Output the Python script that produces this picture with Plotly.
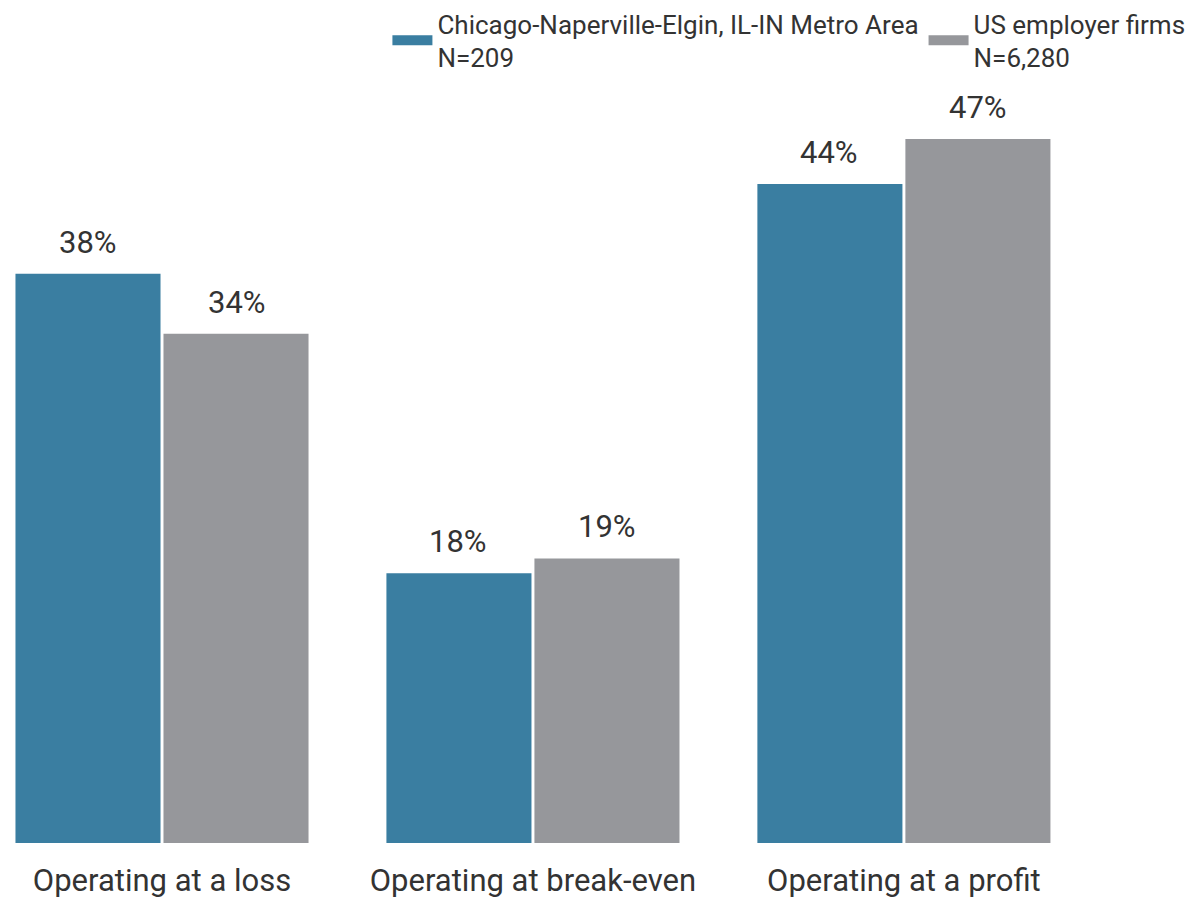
import plotly.graph_objects as go

categories = ["Operating at a loss", "Operating at break-even", "Operating at a profit"]
chicago = [38, 18, 44]
us = [34, 19, 47]
series_names = ["Chicago-Naperville-Elgin, IL-IN Metro Area<br>N=209", "US employer firms<br>N=6,280"]
colors = ["#3a7ea1", "#96979b"]

FONT = "Roboto"
TXT = "#333333"

fig = go.Figure()
for vals, name, col in zip([chicago, us], series_names, colors):
    fig.add_trace(go.Bar(x=categories, y=vals, name=name, marker_color=col,
                         marker_line_width=0, showlegend=False))
# legend proxies (wide swatches)
for name, col in zip(series_names, colors):
    fig.add_trace(go.Scatter(x=[None], y=[None], mode="lines", name=name,
                             line=dict(color=col, width=12)))

# value labels
for vals, shift in zip([chicago, us], [-74.5, 74.5]):
    for c, v in zip(categories, vals):
        fig.add_annotation(x=c, y=v, text=f"{v}%", showarrow=False, xshift=shift,
                           yanchor="bottom", yshift=11,
                           font=dict(family=FONT, size=31, color=TXT))

fig.update_layout(
    width=1194, height=899,
    margin=dict(l=0, r=0, t=80, b=56),
    paper_bgcolor="white", plot_bgcolor="white",
    barmode="group", bargap=0.202, bargroupgap=0.02,
    legend=dict(orientation="h", xref="container", yref="container",
                x=0.997, xanchor="right", y=1, yanchor="top",
                itemwidth=40,
                font=dict(family=FONT, size=26, color=TXT)),
    font=dict(family=FONT, color=TXT),
)
fig.update_xaxes(range=[-0.4367, 2.782], showgrid=False, showline=False, ticks="",
                 tickfont=dict(family=FONT, size=31, color=TXT),
                 ticklabelstandoff=16, automargin=False)
fig.update_yaxes(range=[0, 50.87], visible=False, showgrid=False, automargin=False)

fig.write_html("out.html", config={"displayModeBar": False},
               post_script="document.body.style.margin='0';document.body.style.overflow='hidden';")
